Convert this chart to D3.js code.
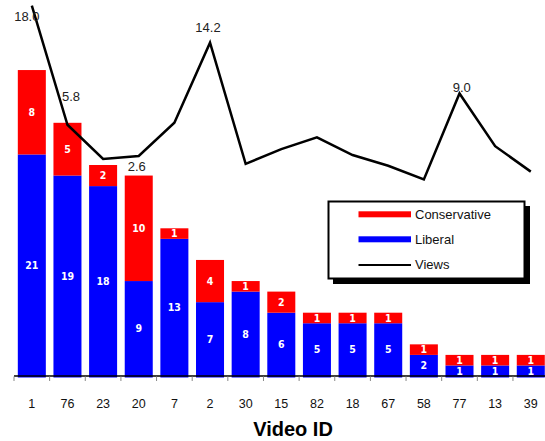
<!DOCTYPE html>
<html>
<head>
<meta charset="utf-8">
<script src="https://cdn.jsdelivr.net/npm/d3@7"></script>
<style>
  html, body { margin: 0; padding: 0; background: #fff; }
  svg { display: block; }
</style>
</head>
<body>
<svg id="chart" width="545" height="441"></svg>
<script>
// ---- data ----
const videoIds = ["1","76","23","20","7","2","30","15","82","18","67","58","77","13","39"];
const liberal = [21,19,18,9,13,7,8,6,5,5,5,2,1,1,1];
const conservative = [8,5,2,10,1,4,1,2,1,1,1,1,1,1,1];
const views = [18.0,5.8,2.3,2.6,6.0,14.2,1.8,3.3,4.5,2.7,1.6,0.2,9.0,3.6,1.0];
const labelledViews = ["1","76","20","2","77"];
const legendLabels = ["Conservative","Liberal","Views"];

// ---- style / layout ----
const RED = "#ff0000", BLUE = "#0000ff";
const labelOffset = { "1": [-5, 15], "76": [3.5, -24], "20": [-2, 14.7], "2": [-2, -10.4], "77": [2.3, -1.2] };

const svg = d3.select("#chart");

const x = d3.scaleBand().domain(videoIds).range([14, 548.6]).paddingInner(0.214).paddingOuter(0.107);
const y = d3.scaleLinear().domain([0, 30]).range([376, 59.5]);
const yv = d3.scaleLinear().domain([0, 20]).range([181.4, -14]);

const rows = videoIds.map((id, i) => ({ id, lib: liberal[i], con: conservative[i], v: views[i] }));

// bars
const g = svg.append("g");
g.selectAll("rect.lib").data(rows).join("rect")
  .attr("x", d => x(d.id)).attr("width", x.bandwidth())
  .attr("y", d => y(d.lib)).attr("height", d => y(0) - y(d.lib) + 1.5)
  .attr("fill", BLUE);
g.selectAll("rect.con").data(rows).join("rect")
  .attr("x", d => x(d.id)).attr("width", x.bandwidth())
  .attr("y", d => y(d.lib + d.con)).attr("height", d => y(d.lib) - y(d.lib + d.con))
  .attr("fill", RED);

// bar labels
const barFont = "'DejaVu Sans Condensed','DejaVu Sans',sans-serif";
g.selectAll("text.lib").data(rows).join("text")
  .attr("x", d => x(d.id) + x.bandwidth() / 2)
  .attr("y", d => (y(0) + y(d.lib)) / 2)
  .attr("dy", "0.36em")
  .attr("text-anchor", "middle")
  .attr("fill", "#fff").attr("font-weight", "bold")
  .attr("font-family", barFont).attr("font-size", "10.5px")
  .text(d => d.lib);
g.selectAll("text.con").data(rows).join("text")
  .attr("x", d => x(d.id) + x.bandwidth() / 2)
  .attr("y", d => (y(d.lib) + y(d.lib + d.con)) / 2)
  .attr("dy", "0.36em")
  .attr("text-anchor", "middle")
  .attr("fill", "#fff").attr("font-weight", "bold")
  .attr("font-family", barFont).attr("font-size", "10.5px")
  .text(d => d.con);

// x axis
const axis = d3.axisBottom(x).tickSize(0).tickPadding(0);
const ax = svg.append("g").attr("transform", "translate(0,376)");
ax.append("line").attr("x1", 14).attr("x2", 549).attr("y1", 0).attr("y2", 0)
  .attr("stroke", "#000").attr("stroke-width", 1.5);
const step = x.step();
ax.selectAll("line.tick").data(d3.range(videoIds.length + 1)).join("line")
  .attr("x1", i => 14 + i * step).attr("x2", i => 14 + i * step)
  .attr("y1", 0.5).attr("y2", 5)
  .attr("stroke", "#888").attr("stroke-width", 1);
ax.selectAll("text.lbl").data(videoIds).join("text")
  .attr("x", d => x(d) + x.bandwidth() / 2)
  .attr("y", 32)
  .attr("text-anchor", "middle")
  .attr("font-family", "'Liberation Sans', Arial, sans-serif")
  .attr("font-size", "12.5px").attr("fill", "#111")
  .text(d => d);

svg.append("text").attr("x", 293).attr("y", 436)
  .attr("text-anchor", "middle")
  .attr("font-family", "'Liberation Sans', Arial, sans-serif")
  .attr("font-weight", "bold").attr("font-size", "20px").attr("fill", "#000")
  .text("Video ID");

// views line
const line = d3.line().x(d => x(d.id) + x.bandwidth() / 2).y(d => yv(d.v));
svg.append("path").datum(rows).attr("d", line)
  .attr("fill", "none").attr("stroke", "#000").attr("stroke-width", 2.5)
  .attr("stroke-linejoin", "miter");

svg.selectAll("text.vl").data(rows.filter(d => labelledViews.includes(d.id))).join("text")
  .attr("x", d => x(d.id) + x.bandwidth() / 2 + labelOffset[d.id][0])
  .attr("y", d => yv(d.v) + labelOffset[d.id][1])
  .attr("text-anchor", "middle")
  .attr("font-family", "'Liberation Sans', Arial, sans-serif")
  .attr("font-size", "13px").attr("fill", "#222")
  .text(d => d.v.toFixed(1));

// legend
const lg = svg.append("g");
lg.append("rect").attr("x", 333).attr("y", 206).attr("width", 197).attr("height", 78).attr("fill", "#000");
lg.append("rect").attr("x", 328.5).attr("y", 201.5).attr("width", 196).attr("height", 77)
  .attr("fill", "#fff").attr("stroke", "#000").attr("stroke-width", 2);
const legendColors = [RED, BLUE, "#000"];
legendLabels.forEach((lab, i) => {
  const cy = 214.3 + i * 25;
  if (i < 2) {
    lg.append("rect").attr("x", 358.5).attr("y", cy - 3).attr("width", 52.5).attr("height", 6).attr("fill", legendColors[i]);
  } else {
    lg.append("line").attr("x1", 358.5).attr("x2", 411).attr("y1", cy + 0.7).attr("y2", cy + 0.7)
      .attr("stroke", "#000").attr("stroke-width", 2);
  }
  lg.append("text").attr("x", 415).attr("y", cy).attr("dy", "0.35em")
    .attr("font-family", "'Liberation Sans', Arial, sans-serif")
    .attr("font-size", "13px").attr("fill", "#111")
    .text(lab);
});
</script>
</body>
</html>
